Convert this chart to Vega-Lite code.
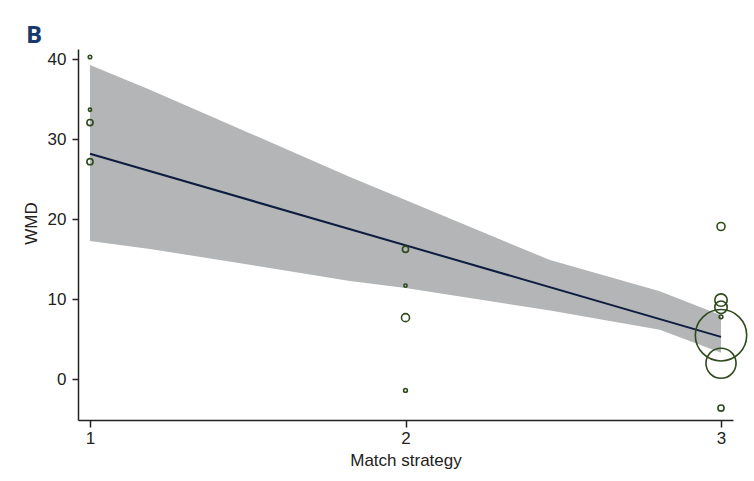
{
  "$schema": "https://vega.github.io/schema/vega-lite/v6.json",
  "width": 655,
  "height": 371,
  "autosize": {"type": "none"},
  "padding": {"left": 78, "top": 49, "right": 21, "bottom": 61},
  "background": "white",
  "title": {
    "text": "B",
    "anchor": "start",
    "frame": "group",
    "dx": -52,
    "dy": 24,
    "offset": 6,
    "baseline": "alphabetic",
    "font": "Open Sans",
    "fontSize": 24,
    "fontWeight": "bold",
    "color": "#163a6b"
  },
  "datasets": {
    "band": [
      {"strategy": 1.0, "lo": 17.3, "hi": 39.3},
      {"strategy": 1.19, "lo": 16.3, "hi": 36.2},
      {"strategy": 1.824, "lo": 12.3, "hi": 25.3},
      {"strategy": 2.0, "lo": 11.4, "hi": 22.4},
      {"strategy": 2.458, "lo": 8.6, "hi": 14.9},
      {"strategy": 2.806, "lo": 6.2, "hi": 11.0},
      {"strategy": 3.0, "lo": 3.3, "hi": 8.0}
    ],
    "fit": [
      {"strategy": 1, "wmd": 28.2},
      {"strategy": 3, "wmd": 5.3}
    ],
    "studies": [
      {"strategy": 1, "wmd": 40.3, "weight": 0.14},
      {"strategy": 1, "wmd": 33.7, "weight": 0.12},
      {"strategy": 1, "wmd": 32.1, "weight": 0.43},
      {"strategy": 1, "wmd": 27.2, "weight": 0.43},
      {"strategy": 2, "wmd": 16.25, "weight": 0.43},
      {"strategy": 2, "wmd": 11.7, "weight": 0.12},
      {"strategy": 2, "wmd": 7.7, "weight": 0.73},
      {"strategy": 2, "wmd": -1.4, "weight": 0.16},
      {"strategy": 3, "wmd": 19.1, "weight": 0.73},
      {"strategy": 3, "wmd": 9.9, "weight": 1.75},
      {"strategy": 3, "wmd": 9.0, "weight": 1.75},
      {"strategy": 3, "wmd": 7.8, "weight": 0.16},
      {"strategy": 3, "wmd": 5.5, "weight": 30},
      {"strategy": 3, "wmd": 2.0, "weight": 10.3},
      {"strategy": 3, "wmd": -3.6, "weight": 0.43}
    ]
  },
  "layer": [
    {
      "data": {"name": "band"},
      "mark": {"type": "area", "color": "#b3b5b6", "opacity": 1},
      "encoding": {
        "x": {
          "field": "strategy",
          "type": "quantitative",
          "scale": {"domain": [0.962, 3.038], "nice": false, "zero": false},
          "axis": {
            "tickCount": 3,
            "format": "d",
            "title": "Match strategy",
            "tickSize": 7,
            "labelPadding": 3,
            "titlePadding": 6
          }
        },
        "y": {
          "field": "lo",
          "type": "quantitative",
          "scale": {"domain": [-5.1, 41.3], "nice": false, "zero": false},
          "axis": {
            "values": [0, 10, 20, 30, 40],
            "tickCount": 5,
            "format": "d",
            "title": "WMD",
            "labelPadding": 6,
            "titleX": -38,
            "titleY": 174,
            "titleAlign": "center",
            "titleBaseline": "bottom"
          }
        },
        "y2": {"field": "hi"}
      }
    },
    {
      "data": {"name": "fit"},
      "mark": {"type": "line", "color": "#0d1d40", "strokeWidth": 2},
      "encoding": {
        "x": {"field": "strategy", "type": "quantitative", "scale": {"domain": [0.962, 3.038], "nice": false, "zero": false}},
        "y": {"field": "wmd", "type": "quantitative", "scale": {"domain": [-5.1, 41.3], "nice": false, "zero": false}}
      }
    },
    {
      "data": {"name": "studies"},
      "mark": {"type": "point", "shape": "circle", "filled": false, "stroke": "#2f4a1c", "strokeWidth": 1.6, "opacity": 1},
      "encoding": {
        "x": {"field": "strategy", "type": "quantitative", "scale": {"domain": [0.962, 3.038], "nice": false, "zero": false}},
        "y": {"field": "wmd", "type": "quantitative", "scale": {"domain": [-5.1, 41.3], "nice": false, "zero": false}},
        "size": {
          "field": "weight",
          "type": "quantitative",
          "scale": {"domain": [0, 30], "range": [0, 2640], "zero": true},
          "legend": null
        }
      }
    }
  ],
  "config": {
    "view": {"stroke": null},
    "axis": {
      "grid": false,
      "domainColor": "#222222",
      "domainWidth": 1.5,
      "tickColor": "#222222",
      "tickWidth": 1.5,
      "tickSize": 6,
      "labelFont": "Liberation Sans",
      "labelFontSize": 17,
      "labelColor": "#222222",
      "titleFont": "Liberation Sans",
      "titleFontSize": 17,
      "titleFontWeight": "normal",
      "titleColor": "#222222"
    }
  }
}
